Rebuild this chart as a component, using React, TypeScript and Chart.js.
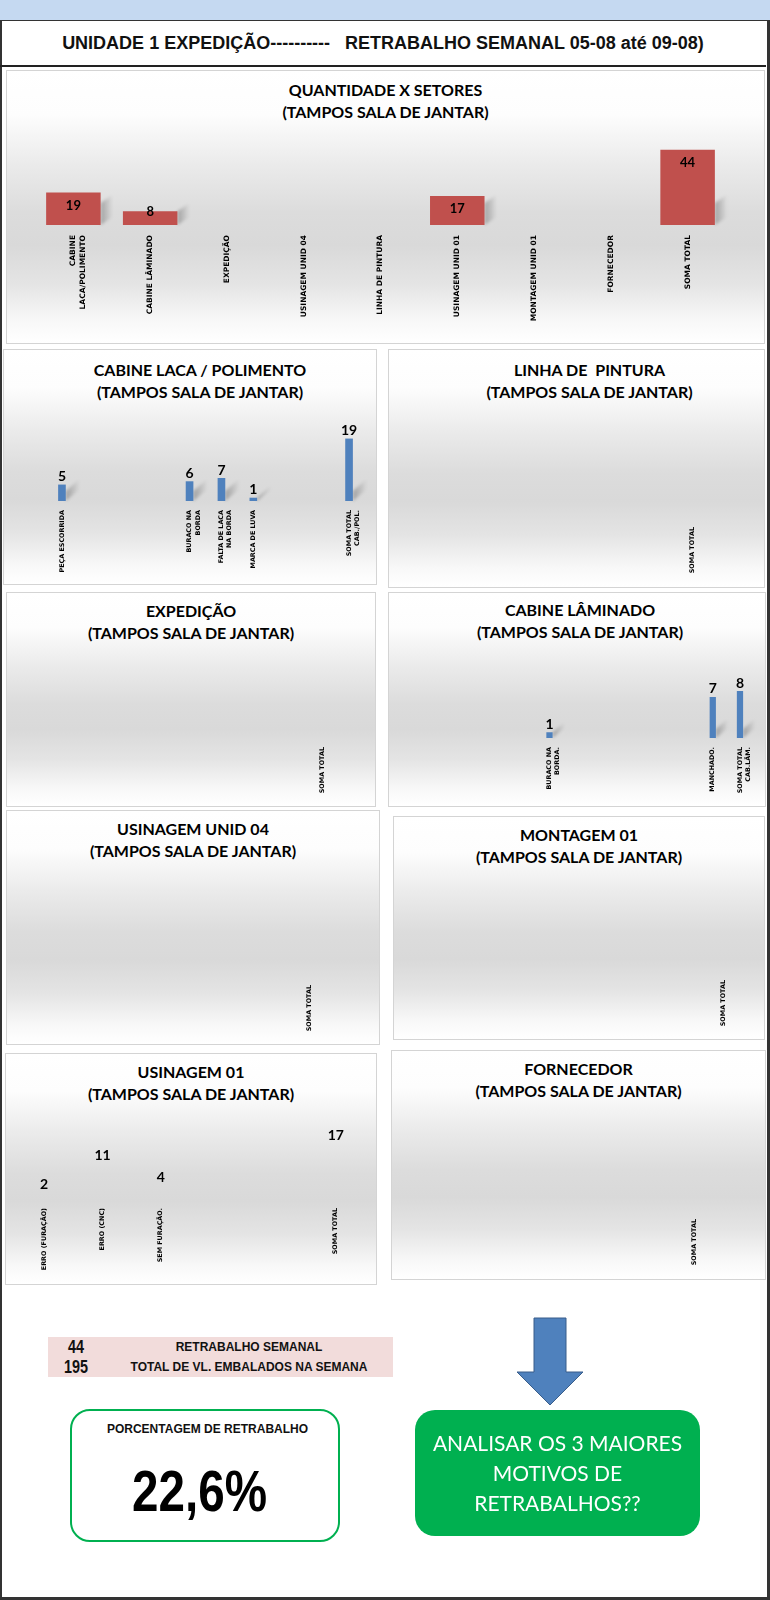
import React, { useEffect, useRef } from "react";
import { Chart, registerables } from "chart.js";

Chart.register(...registerables);

// ---------------- DATA ----------------
const sectorLabels: (string | string[])[] = [
  ["CABINE", "LACA/POLIMENTO"],
  "CABINE LÂMINADO",
  "EXPEDIÇÃO",
  "USINAGEM UNID 04",
  "LINHA DE PINTURA",
  "USINAGEM UNID 01",
  "MONTAGEM UNID 01",
  "FORNECEDOR",
  "SOMA TOTAL",
];
const sectorValues = [19, 8, 0, 0, 0, 17, 0, 0, 44];

const lacaLabels: (string | string[])[] = [
  "PEÇA ESCORRIDA", "", "", "",
  ["BURACO NA", "BORDA"],
  ["FALTA DE LACA", "NA BORDA"],
  "MARCA DE LUVA", "", "",
  ["SOMA TOTAL", "CAB./POL."],
];
const lacaValues = [5, null, null, null, 6, 7, 1, null, null, 19];

const pinturaLabels = ["", "", "", "", "", "SOMA TOTAL"];
const pinturaValues = [null, null, null, null, null, 0];

const expedicaoLabels = ["", "", "", "", "", "SOMA TOTAL"];
const expedicaoValues = [null, null, null, null, null, 0];

const laminadoLabels: (string | string[])[] = [
  "", "", "", "",
  ["BURACO NA", "BORDA."],
  "", "", "", "", "",
  "MANCHADO.",
  ["SOMA TOTAL", "CAB.LÂM."],
];
const laminadoValues = [null, null, null, null, 1, null, null, null, null, null, 7, 8];

const usinagem04Labels = ["", "", "", "", "", "SOMA TOTAL"];
const usinagem04Values = [null, null, null, null, null, 0];

const montagemLabels = ["", "", "", "", "", "SOMA TOTAL"];
const montagemValues = [null, null, null, null, null, 0];

const usinagem01Labels = ["ERRO (FURAÇÃO)", "ERRO (CNC)", "SEM FURAÇÃO.", "", "", "SOMA TOTAL"];
const usinagem01Values = [2, 11, 4, null, null, 17];

const fornecedorLabels = ["", "", "", "", "", "SOMA TOTAL"];
const fornecedorValues = [null, null, null, null, null, 0];

const retrabalhoSemanal = 44;
const totalEmbalados = 195;
const actionLines = ["ANALISAR OS 3 MAIORES", "MOTIVOS DE", "RETRABALHOS??"];
const subtitle = "(TAMPOS SALA DE JANTAR)";

// ---------------- STYLES ----------------
const GRAD =
  "linear-gradient(180deg, #ffffff 0%, #fdfdfd 16%, #ebebeb 34%, #dcdcdc 52%, #d9d9d9 64%, #e4e4e4 78%, #f8f8f8 92%, #ffffff 100%)";
const RED = "#c0504d";
const BLUE = "#4f81bd";
const smallTick = { family: "DejaVu Sans", size: 6.4, weight: "bold" as const, lineHeight: 1.3 };
const bigTick = { family: "DejaVu Sans", size: 7.5, weight: "bold" as const, lineHeight: 1.3 };

type Panel = {
  id: string;
  box: [number, number, number, number];
  title: string;
  titleTop: number;
  titleDx: number;
  labels: (string | string[])[];
  values: (number | null)[];
  color: string;
  barPct: number;
  pad: { left: number; right: number; top: number };
  axisH: number;
  yMax: number;
  tickFont: any;
  tickPad: number;
  value: { mode: "inside" | "above"; size: number; offset: number };
  shadow: { dx: number; dy: number; h: number } | null;
};

const panels: Panel[] = [
  {
    id: "sectors", box: [6, 70, 759, 274], title: "QUANTIDADE X SETORES", titleTop: 9, titleDx: 0,
    labels: sectorLabels, values: sectorValues, color: RED, barPct: 0.71,
    pad: { left: 29, right: 39, top: 61 }, axisH: 119, yMax: 55, tickFont: bigTick, tickPad: 10,
    value: { mode: "inside", size: 13, offset: 13.3 }, shadow: { dx: 12, dy: 8, h: 22 },
  },
  {
    id: "laca", box: [3, 349, 374, 236], title: "CABINE LACA / POLIMENTO", titleTop: 10, titleDx: 10,
    labels: lacaLabels, values: lacaValues, color: BLUE, barPct: 0.24,
    pad: { left: 43, right: 12, top: 60 }, axisH: 84, yMax: 28, tickFont: smallTick, tickPad: 9,
    value: { mode: "above", size: 14, offset: 8 }, shadow: { dx: 14, dy: 12, h: 10 },
  },
  {
    id: "pintura", box: [388, 349, 377, 239], title: "LINHA DE  PINTURA", titleTop: 10, titleDx: 13,
    labels: pinturaLabels, values: pinturaValues, color: BLUE, barPct: 0.24,
    pad: { left: 43, right: 49, top: 60 }, axisH: 70, yMax: 10, tickFont: smallTick, tickPad: 9,
    value: { mode: "above", size: 14, offset: 8 }, shadow: null,
  },
  {
    id: "expedicao", box: [6, 592, 370, 215], title: "EXPEDIÇÃO", titleTop: 8, titleDx: 0,
    labels: expedicaoLabels, values: expedicaoValues, color: BLUE, barPct: 0.24,
    pad: { left: 43, right: 29, top: 60 }, axisH: 69, yMax: 10, tickFont: smallTick, tickPad: 9,
    value: { mode: "above", size: 14, offset: 8 }, shadow: null,
  },
  {
    id: "laminado", box: [388, 592, 378, 215], title: "CABINE LÂMINADO", titleTop: 7, titleDx: 3,
    labels: laminadoLabels, values: laminadoValues, color: BLUE, barPct: 0.23,
    pad: { left: 39, right: 9, top: 58 }, axisH: 69, yMax: 15, tickFont: smallTick, tickPad: 9,
    value: { mode: "above", size: 14, offset: 8 }, shadow: { dx: 12, dy: 10, h: 9 },
  },
  {
    id: "usinagem04", box: [6, 810, 374, 235], title: "USINAGEM UNID 04", titleTop: 8, titleDx: 0,
    labels: usinagem04Labels, values: usinagem04Values, color: BLUE, barPct: 0.24,
    pad: { left: 43, right: 47, top: 60 }, axisH: 69, yMax: 10, tickFont: smallTick, tickPad: 9,
    value: { mode: "above", size: 14, offset: 8 }, shadow: null,
  },
  {
    id: "montagem", box: [393, 816, 372, 224], title: "MONTAGEM 01", titleTop: 8, titleDx: 0,
    labels: montagemLabels, values: montagemValues, color: BLUE, barPct: 0.24,
    pad: { left: 43, right: 15, top: 60 }, axisH: 69, yMax: 10, tickFont: smallTick, tickPad: 9,
    value: { mode: "above", size: 14, offset: 8 }, shadow: null,
  },
  {
    id: "usinagem01", box: [5, 1053, 372, 232], title: "USINAGEM 01", titleTop: 8, titleDx: 0,
    labels: usinagem01Labels, values: usinagem01Values, color: "rgba(0,0,0,0)", barPct: 0.24,
    pad: { left: 10, right: 12, top: 61 }, axisH: 86, yMax: 26, tickFont: smallTick, tickPad: 9,
    value: { mode: "above", size: 14, offset: 8 }, shadow: null,
  },
  {
    id: "fornecedor", box: [391, 1050, 375, 230], title: "FORNECEDOR", titleTop: 8, titleDx: 0,
    labels: fornecedorLabels, values: fornecedorValues, color: BLUE, barPct: 0.24,
    pad: { left: 43, right: 48, top: 60 }, axisH: 70, yMax: 10, tickFont: smallTick, tickPad: 9,
    value: { mode: "above", size: 14, offset: 8 }, shadow: null,
  },
];

function BarPanel({ cfg }: { cfg: Panel }) {
  const ref = useRef<HTMLCanvasElement>(null);
  useEffect(() => {
    if (!ref.current) return;
    const shadowPlugin = {
      id: "barShadow",
      beforeDatasetsDraw(chart: any) {
        if (!cfg.shadow) return;
        const ctx = chart.ctx;
        const meta = chart.getDatasetMeta(0);
        meta.data.forEach((bar: any, i: number) => {
          const v = cfg.values[i];
          if (!v) return;
          const p = bar.getProps(["x", "y", "base", "width"], true);
          const xR = p.x + p.width / 2;
          const hh = Math.min(p.base - p.y, cfg.shadow!.h);
          const { dx, dy } = cfg.shadow!;
          const g = ctx.createLinearGradient(xR, 0, xR + dx, 0);
          g.addColorStop(0, "rgba(0,0,0,0.26)");
          g.addColorStop(1, "rgba(0,0,0,0)");
          ctx.save();
          ctx.filter = "blur(1.5px)";
          ctx.beginPath();
          ctx.moveTo(xR, p.base);
          ctx.lineTo(xR + dx, p.base - dy);
          ctx.lineTo(xR + dx, p.base - dy - hh);
          ctx.lineTo(xR, p.base - hh);
          ctx.closePath();
          ctx.fillStyle = g;
          ctx.fill();
          ctx.restore();
        });
      },
    };
    const valuePlugin = {
      id: "valueLabels",
      afterDatasetsDraw(chart: any) {
        const ctx = chart.ctx;
        const meta = chart.getDatasetMeta(0);
        ctx.save();
        ctx.font = `bold ${cfg.value.size}px Lato`;
        ctx.fillStyle = "#000";
        ctx.textAlign = "center";
        ctx.textBaseline = "middle";
        meta.data.forEach((bar: any, i: number) => {
          const v = cfg.values[i];
          if (v == null || v === 0) return;
          const p = bar.getProps(["x", "y", "base"], true);
          let ty: number;
          if (cfg.value.mode === "inside") {
            ty = Math.min(p.y + cfg.value.offset, p.base - 13);
          } else {
            ty = p.y - cfg.value.offset;
          }
          ctx.fillText(String(v), p.x, ty);
        });
        ctx.restore();
      },
    };
    const chart = new Chart(ref.current, {
      type: "bar",
      data: {
        labels: cfg.labels,
        datasets: [
          {
            data: cfg.values as any,
            backgroundColor: cfg.color,
            borderWidth: 0,
            barPercentage: cfg.barPct,
            categoryPercentage: 1,
          },
        ],
      },
      options: {
        responsive: false,
        animation: false,
        layout: { padding: { left: cfg.pad.left, right: cfg.pad.right, top: cfg.pad.top, bottom: 0 } },
        plugins: { legend: { display: false }, tooltip: { enabled: false }, title: { display: false } },
        scales: {
          x: {
            grid: { display: false, drawTicks: false },
            border: { display: false },
            ticks: {
              autoSkip: false,
              minRotation: 90,
              maxRotation: 90,
              padding: cfg.tickPad,
              color: "#000",
              font: cfg.tickFont,
            },
            afterFit: (s: any) => {
              s.height = cfg.axisH;
            },
          },
          y: { display: false, min: 0, max: cfg.yMax },
        },
      },
      plugins: [shadowPlugin, valuePlugin],
    });
    return () => chart.destroy();
  }, []);
  const [l, t, w, h] = cfg.box;
  return (
    <div
      style={{
        position: "absolute",
        left: l,
        top: t,
        width: w,
        height: h,
        boxSizing: "border-box",
        border: "1px solid #d4d4d4",
        background: GRAD,
      }}
    >
      <div
        style={{
          position: "absolute",
          left: -1,
          top: cfg.titleTop - 1,
          width: w,
          textAlign: "center",
          fontFamily: "Lato",
          fontWeight: 700,
          fontSize: 16,
          lineHeight: "22px",
          color: "#000",
          whiteSpace: "pre",
          transform: `translateX(${cfg.titleDx}px)`,
        }}
      >
        <div>{cfg.title}</div>
        <div>{subtitle}</div>
      </div>
      <canvas
        ref={ref}
        width={w}
        height={h}
        style={{ position: "absolute", left: -1, top: -1, width: w, height: h }}
      />
    </div>
  );
}

const arial = "'Liberation Sans', Arial, sans-serif";

export default function App() {
  const pct = ((retrabalhoSemanal / totalEmbalados) * 100).toFixed(1).replace(".", ",") + "%";
  return (
    <div
      style={{
        position: "absolute",
        left: 0,
        top: 0,
        width: 770,
        height: 1600,
        background: "#fff",
        overflow: "hidden",
        fontFamily: arial,
      }}
    >
      {/* top blue band */}
      <div style={{ position: "absolute", left: 0, top: 0, width: 770, height: 20, background: "#c5d9f1" }} />
      {/* frame */}
      <div
        style={{
          position: "absolute",
          left: 0,
          top: 20,
          width: 770,
          height: 1580,
          boxSizing: "border-box",
          borderTop: "1px solid #333",
          borderLeft: "2px solid #333",
          borderRight: "3px solid #333",
          borderBottom: "3px solid #333",
        }}
      />
      {/* header */}
      <div
        style={{
          position: "absolute",
          left: 0,
          top: 21,
          width: 766,
          height: 44,
          lineHeight: "44px",
          textAlign: "center",
          fontWeight: 700,
          fontSize: 18,
          whiteSpace: "pre",
          color: "#111",
          borderBottom: "2px solid #222",
        }}
      >
        {"UNIDADE 1 EXPEDIÇÃO----------   RETRABALHO SEMANAL 05-08 até 09-08)"}
      </div>

      {panels.map((p) => (
        <BarPanel key={p.id} cfg={p} />
      ))}

      {/* summary table */}
      <div style={{ position: "absolute", left: 48, top: 1337, width: 345, height: 40, background: "#f2dcdb" }}>
        {[
          [String(retrabalhoSemanal), "RETRABALHO SEMANAL"],
          [String(totalEmbalados), "TOTAL DE VL. EMBALADOS NA SEMANA"],
        ].map((row, i) => (
          <React.Fragment key={i}>
            <div
              style={{
                position: "absolute",
                left: 8,
                top: i * 20,
                width: 40,
                height: 20,
                lineHeight: "20px",
                textAlign: "center",
                fontSize: 18,
                fontWeight: 700,
                color: "#111",
                transform: "scaleX(0.8)",
              }}
            >
              {row[0]}
            </div>
            <div
              style={{
                position: "absolute",
                left: 60,
                top: i * 20,
                width: 282,
                height: 20,
                lineHeight: "20px",
                textAlign: "center",
                fontSize: 12,
                fontWeight: 700,
                color: "#111",
                whiteSpace: "pre",
              }}
            >
              {row[1]}
            </div>
          </React.Fragment>
        ))}
      </div>

      {/* percentage box */}
      <div
        style={{
          position: "absolute",
          left: 70,
          top: 1409,
          width: 270,
          height: 133,
          boxSizing: "border-box",
          border: "2.5px solid #00b050",
          borderRadius: 20,
          background: "#fff",
        }}
      >
        <div
          style={{
            position: "absolute",
            left: 0,
            top: 8,
            width: 265,
            lineHeight: "20px",
            textAlign: "center",
            fontSize: 12,
            fontWeight: 700,
            color: "#111",
            transform: "translateX(3px)",
          }}
        >
          PORCENTAGEM DE RETRABALHO
        </div>
        <div
          style={{
            position: "absolute",
            left: 0,
            top: 48,
            width: 265,
            height: 64,
            lineHeight: "64px",
            textAlign: "center",
            fontSize: 58,
            fontWeight: 700,
            color: "#000",
            transform: "translateX(-5px) scaleX(0.82)",
          }}
        >
          {pct}
        </div>
      </div>

      {/* arrow */}
      <svg
        width={770}
        height={1600}
        style={{ position: "absolute", left: 0, top: 0, pointerEvents: "none" }}
      >
        <path
          d="M534 1318 H566 V1372 H583 L550 1405 L517 1372 H534 Z"
          fill="#4f81bd"
          stroke="#385d8a"
          strokeWidth={1}
        />
      </svg>

      {/* action box */}
      <div
        style={{
          position: "absolute",
          left: 415,
          top: 1410,
          width: 285,
          height: 126,
          borderRadius: 20,
          background: "#00b050",
        }}
      >
        <div
          style={{
            position: "absolute",
            left: 0,
            top: 18,
            width: 285,
            textAlign: "center",
            fontFamily: "Lato",
            fontSize: 21,
            lineHeight: "30px",
            color: "#fff",
          }}
        >
          {actionLines.map((t, i) => (
            <div key={i}>{t}</div>
          ))}
        </div>
      </div>
    </div>
  );
}
